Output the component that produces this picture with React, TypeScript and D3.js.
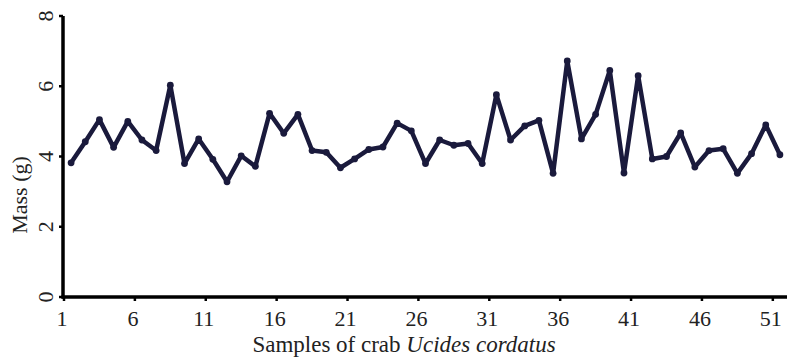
import React from "react";
import * as d3 from "d3";

const samples: number[] = Array.from({ length: 51 }, (_, i) => i + 1);
const mass: number[] = [
  3.82, 4.42, 5.05, 4.26, 5.0, 4.47, 4.17, 6.03, 3.8, 4.5,
  3.92, 3.28, 4.02, 3.72, 5.23, 4.66, 5.2, 4.17, 4.12, 3.68,
  3.93, 4.2, 4.27, 4.95, 4.73, 3.8, 4.47, 4.32, 4.37, 3.8,
  5.76, 4.47, 4.87, 5.03, 3.52, 6.72, 4.5, 5.2, 6.45, 3.53,
  6.3, 3.93, 4.0, 4.67, 3.7, 4.17, 4.22, 3.52, 4.08, 4.9,
  4.05,
];
const xTickLabels: number[] = [1, 6, 11, 16, 21, 26, 31, 36, 41, 46, 51];
const yTicks: number[] = [0, 2, 4, 6, 8];

const W = 787;
const H = 361;
const FONT = "'Liberation Serif', 'Times New Roman', serif";
const LINE = "#1a1a3c";

export default function App() {
  const x = d3.scaleBand<number>().domain(samples).range([64, 787]).paddingInner(0).paddingOuter(0);
  const y = d3.scaleLinear().domain([0, 8]).range([297, 16]);
  const cx = (s: number) => (x(s) as number) + x.bandwidth() / 2;
  const data = samples.map((s, i) => ({ s, v: mass[i] }));
  const line = d3
    .line<{ s: number; v: number }>()
    .x((d) => cx(d.s))
    .y((d) => y(d.v));

  return (
    <svg
      width={W}
      height={H}
      style={{ position: "absolute", left: 0, top: 0, background: "#fff" }}
      fontFamily={FONT}
    >
      <rect x={0} y={0} width={W} height={H} fill="#fff" />
      {/* series */}
      <path d={line(data) || ""} fill="none" stroke={LINE} strokeWidth={4.5} strokeLinejoin="round" />
      {data.map((d) => (
        <circle key={d.s} cx={cx(d.s)} cy={y(d.v)} r={3.4} fill={LINE} />
      ))}
      {/* y axis */}
      <line x1={63} x2={63} y1={y(8)} y2={y(0) + 1.5} stroke="#000" strokeWidth={3.5} />
      {yTicks.map((t) => (
        <g key={t}>
          <line x1={59} x2={63} y1={y(t)} y2={y(t)} stroke="#000" strokeWidth={2.5} />
          <text
            transform={`translate(53,${y(t)}) rotate(-90)`}
            textAnchor="middle"
            fontSize={22}
            fill="#222"
          >
            {t}
          </text>
        </g>
      ))}
      {/* x axis */}
      <line x1={61.5} x2={787} y1={y(0)} y2={y(0)} stroke="#000" strokeWidth={3.5} />
      {xTickLabels.map((t) => (
        <g key={t}>
          <line x1={x(t) as number} x2={x(t) as number} y1={y(0)} y2={y(0) + 4} stroke="#000" strokeWidth={2.5} />
          <text x={(x(t) as number) - 2} y={326} textAnchor="middle" fontSize={22} fill="#222">
            {t}
          </text>
        </g>
      ))}
      {/* axis titles */}
      <text transform="translate(27,195) rotate(-90)" textAnchor="middle" fontSize={22} fill="#222">
        Mass (g)
      </text>
      <text x={404} y={352} textAnchor="middle" fontSize={23} fill="#222">
        Samples of crab <tspan fontStyle="italic">Ucides cordatus</tspan>
      </text>
    </svg>
  );
}
